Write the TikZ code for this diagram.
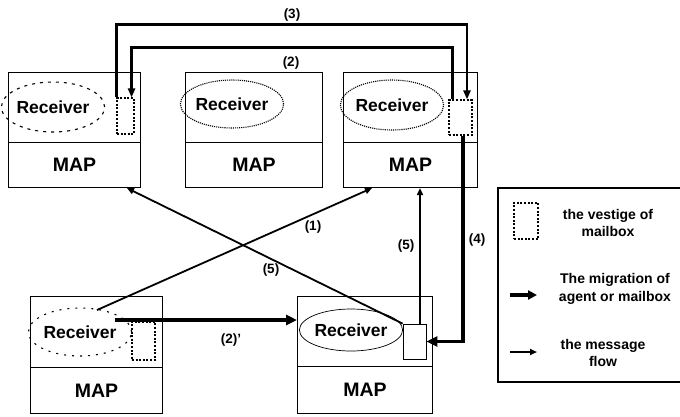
\documentclass[tikz,border=0pt]{standalone}
\usepackage{fontspec}
\setmainfont{Liberation Sans}
\usetikzlibrary{arrows.meta,calc,shapes.geometric}
\tikzset{
  part/.style={draw, line width=1.1pt, inner sep=0pt, anchor=north west},
  maptxt/.style={font=\bfseries\fontsize{19.5}{19.5}\selectfont},
  recv/.style={ellipse, inner sep=0pt, font=\bfseries\fontsize{17.5}{17.5}\selectfont},
  vest/.style={draw, line width=1.1pt, dash pattern=on 2pt off 1.6pt, inner sep=0pt},
  mbox/.style={draw, line width=0.8pt, inner sep=0pt},
  lbl/.style={font=\bfseries\fontsize{13.5}{13.5}\selectfont, inner sep=0pt},
  legtxt/.style={font=\bfseries\fontsize{14}{17.5}\selectfont, align=center, inner sep=0pt},
  migr/.style={line width=3.6pt, -{Triangle[length=11pt,width=10pt]}},
  route/.style={line width=2.4pt, -{Triangle[length=9pt,width=7pt]}},
  msg/.style={line width=1.8pt, -{Triangle[length=7pt,width=6pt]}},
}
\begin{document}
\begin{tikzpicture}[x=1pt,y=-1pt]
\useasboundingbox (0,0) rectangle (680,416);
% ---- box A (top left)
\node[part, minimum width=132pt, minimum height=70pt] (Atop) at (8,72) {};
\node[part, minimum width=132pt, minimum height=45pt, maptxt] (Amap) at (8,142) {MAP};
\node[recv, minimum width=88pt, minimum height=50pt, draw, line width=1.1pt, dash pattern=on 3pt off 5pt] (Ar) at (53,107) {Receiver};
\node[vest, minimum width=17pt, minimum height=36pt] (Av) at (125.5,116) {};
% ---- box B (top middle)
\node[part, minimum width=137pt, minimum height=70pt] (Btop) at (185,72) {};
\node[part, minimum width=137pt, minimum height=45pt, maptxt] (Bmap) at (185,142) {MAP};
\node[recv, minimum width=84pt, minimum height=48pt, draw, line width=1.1pt, densely dotted] (Br) at (232,104) {Receiver};
% ---- box C (top right)
\node[part, minimum width=134pt, minimum height=70pt] (Ctop) at (343,72) {};
\node[part, minimum width=134pt, minimum height=45pt, maptxt] (Cmap) at (343,142) {MAP};
\node[recv, minimum width=89pt, minimum height=50pt, draw, line width=1.1pt, densely dotted] (Cr) at (392,105) {Receiver};
\node[vest, minimum width=23pt, minimum height=35pt] (Cv) at (460.5,117.5) {};
% ---- box D (bottom left)
\node[part, minimum width=132pt, minimum height=71pt] (Dtop) at (30,296) {};
\node[part, minimum width=132pt, minimum height=46pt, maptxt] (Dmap) at (30,367) {MAP};
\node[recv, minimum width=90pt, minimum height=48pt, draw, line width=1.1pt, dash pattern=on 2pt off 6pt] (Dr) at (80,332) {Receiver};
\node[vest, minimum width=23pt, minimum height=38pt] (Dv) at (143.5,341) {};
% ---- box E (bottom middle)
\node[part, minimum width=135pt, minimum height=70pt] (Etop) at (297,296) {};
\node[part, minimum width=135pt, minimum height=47pt, maptxt] (Emap) at (297,366) {MAP};
\node[recv, minimum width=92pt, minimum height=42pt, draw, line width=0.7pt] (Er) at (351,330) {Receiver};
\node[mbox, minimum width=23pt, minimum height=35pt] (Ev) at (414.5,341.5) {};
% ---- connectors
\coordinate (d1s) at (97,310);
\coordinate (d2s) at (115,320);
\draw[route] (Av.north west) -- ++(0,-73) -| ([xshift=6.5pt]Cv.north);
\draw[route] ([xshift=4pt]Cv.north west) -- ++(0,-52) -| ([xshift=-3pt]Av.north east);
\draw[migr] ([xshift=2.5pt]Cv.south) |- (Ev.east);
\draw[migr] (d2s) -- (d2s -| Etop.west);
\draw[msg] (d1s) -- ([xshift=29pt]Cmap.south west);
\draw[msg] (Ev.north west) -- ([xshift=119pt]Amap.south west);
\draw[msg] ([xshift=5.5pt]Ev.north) -- ([xshift=5.5pt]Ev.north |- Cmap.south);
% ---- labels
\node[lbl] (l3) at (292,15) {(3)};
\node[lbl] (l2) at (291,63) {(2)};
\node[lbl] (l1) at (313,227) {(1)};
\node[lbl] (l5a) at (271,270) {(5)};
\node[lbl] (l5b) at (406,246) {(5)};
\node[lbl] (l4) at (477,240) {(4)};
\node[lbl] (l2p) at (231,340) {(2)'};
% ---- legend
\draw[line width=1.1pt] (680,188) -- (498,188) -- (498,382) -- (680,382);
\node[vest, minimum width=24pt, minimum height=36pt] (Lv) at (526,221) {};
\node[legtxt] (Lvt) at (608,223) {the vestige of\\mailbox};
\coordinate (Lm1) at (510,295);
\coordinate (Lm2) at (537,295);
\draw[line width=3.6pt, -{Triangle[length=9pt,width=9pt]}] (Lm1) -- (Lm2);
\node[legtxt] (Lmt) at (615,289) {The migration of\\agent or mailbox};
\coordinate (Lf1) at (510,352);
\coordinate (Lf2) at (537,352);
\draw[msg] (Lf1) -- (Lf2);
\node[legtxt] (Lft) at (603,353) {the message\\flow};
\end{tikzpicture}
\end{document}
